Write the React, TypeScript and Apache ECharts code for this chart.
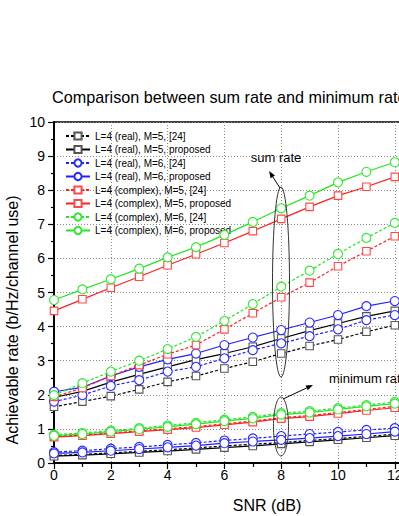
import React, { useEffect, useRef } from "react";
import * as echarts from "echarts";

const snr = [0, 1, 2, 3, 4, 5, 6, 7, 8, 9, 10, 11, 12];

const legendNames = [
  "L=4 (real), M=5, [24]",
  "L=4 (real), M=5, proposed",
  "L=4 (real), M=6, [24]",
  "L=4 (real), M=6, proposed",
  "L=4 (complex), M=5, [24]",
  "L=4 (complex), M=5, proposed",
  "L=4 (complex), M=6, [24]",
  "L=4 (complex), M=6, proposed",
];

// sum rate curves
const sumReal5Ref = [1.65, 1.8, 1.96, 2.16, 2.38, 2.55, 2.77, 2.97, 3.21, 3.43, 3.62, 3.85, 4.04];
const sumReal5Prop = [1.92, 2.1, 2.37, 2.6, 2.82, 3.03, 3.21, 3.41, 3.65, 3.88, 4.09, 4.3, 4.46];
const sumReal6Ref = [1.8, 1.99, 2.26, 2.43, 2.68, 2.82, 3.07, 3.31, 3.51, 3.72, 3.92, 4.19, 4.34];
const sumReal6Prop = [2.09, 2.22, 2.55, 2.82, 3.04, 3.21, 3.46, 3.68, 3.9, 4.12, 4.34, 4.6, 4.75];
const sumCplx5Ref = [1.94, 2.2, 2.55, 2.87, 3.19, 3.46, 3.92, 4.39, 4.86, 5.29, 5.77, 6.21, 6.65];
const sumCplx5Prop = [4.46, 4.8, 5.14, 5.46, 5.8, 6.12, 6.45, 6.8, 7.16, 7.51, 7.84, 8.1, 8.39];
const sumCplx6Ref = [1.99, 2.34, 2.68, 3.0, 3.34, 3.7, 4.17, 4.66, 5.17, 5.64, 6.13, 6.6, 7.04];
const sumCplx6Prop = [4.78, 5.09, 5.39, 5.7, 6.03, 6.33, 6.69, 7.07, 7.47, 7.84, 8.23, 8.54, 8.82];

// minimum rate curves
const minReal5Ref = [0.22, 0.25, 0.3, 0.34, 0.39, 0.44, 0.5, 0.55, 0.6, 0.66, 0.72, 0.78, 0.84];
const minReal5Prop = [0.2, 0.23, 0.27, 0.31, 0.35, 0.4, 0.45, 0.5, 0.56, 0.62, 0.68, 0.74, 0.8];
const minReal6Ref = [0.32, 0.36, 0.42, 0.47, 0.53, 0.59, 0.66, 0.72, 0.79, 0.85, 0.91, 0.97, 1.02];
const minReal6Prop = [0.28, 0.31, 0.36, 0.41, 0.46, 0.51, 0.58, 0.63, 0.68, 0.73, 0.79, 0.85, 0.92];
const minCplx5Ref = [0.78, 0.82, 0.88, 0.94, 1.0, 1.07, 1.15, 1.23, 1.33, 1.39, 1.48, 1.57, 1.66];
const minCplx5Prop = [0.76, 0.8, 0.86, 0.92, 0.98, 1.04, 1.12, 1.2, 1.3, 1.36, 1.45, 1.54, 1.62];
const minCplx6Ref = [0.83, 0.88, 0.95, 1.02, 1.1, 1.18, 1.27, 1.35, 1.46, 1.52, 1.61, 1.7, 1.79];
const minCplx6Prop = [0.8, 0.85, 0.92, 0.99, 1.06, 1.14, 1.23, 1.31, 1.42, 1.48, 1.57, 1.66, 1.74];

const xTickLabels = ["0", "2", "4", "6", "8", "10", "12"];

const sumSets = [sumReal5Ref, sumReal5Prop, sumReal6Ref, sumReal6Prop, sumCplx5Ref, sumCplx5Prop, sumCplx6Ref, sumCplx6Prop];
const minSets = [minReal5Ref, minReal5Prop, minReal6Ref, minReal6Prop, minCplx5Ref, minCplx5Prop, minCplx6Ref, minCplx6Prop];

const lineColors = ["#000000", "#000000", "#1f1fff", "#1f1fff", "#ff2020", "#ff2020", "#22e622", "#22e622"];
const markerColors = ["#555555", "#555555", "#2a2aff", "#2a2aff", "#ff4848", "#ff4848", "#30e830", "#30e830"];
const symbols = ["rect", "rect", "circle", "circle", "rect", "rect", "circle", "circle"];
const dashed = [true, false, true, false, true, false, true, false];

const FONT = "Liberation Sans, Arial, sans-serif";

function arrow(x1: number, y1: number, x2: number, y2: number) {
  const dx = x2 - x1;
  const dy = y2 - y1;
  const len = Math.sqrt(dx * dx + dy * dy);
  const ux = dx / len;
  const uy = dy / len;
  const hl = 7;
  const hw = 2.6;
  const bx = x2 - hl * ux;
  const by = y2 - hl * uy;
  const nx = -uy;
  const ny = ux;
  return [
    {
      type: "line",
      shape: { x1, y1, x2: bx, y2: by },
      style: { stroke: "#000", lineWidth: 1 },
      z: 100,
    },
    {
      type: "polygon",
      shape: {
        points: [
          [x2, y2],
          [bx + hw * nx, by + hw * ny],
          [bx - hw * nx, by - hw * ny],
        ],
      },
      style: { fill: "#000" },
      z: 100,
    },
  ];
}

export default function App() {
  const ref = useRef<HTMLDivElement>(null);
  useEffect(() => {
    if (!ref.current) return;
    const chart = echarts.init(ref.current, undefined, { renderer: "svg" });
    const series: any[] = [];
    const groups = [sumSets, minSets];
    groups.forEach((sets) => {
      sets.forEach((vals, i) => {
        series.push({
          type: "line",
          name: legendNames[i],
          data: snr.map((x, k) => [x, vals[k]]),
          symbol: symbols[i],
          symbolSize: symbols[i] === "circle" ? 9 : 7.5,
          showSymbol: true,
          z: 2 + i,
          lineStyle: {
            color: lineColors[i],
            width: 1.2,
            type: dashed[i] ? [3, 2] : "solid",
          },
          itemStyle: {
            color: "#ffffff",
            borderColor: markerColors[i],
            borderWidth: 1.1,
          },
          emphasis: { disabled: true },
        });
      });
    });

    const graphic: any[] = [
      {
        type: "text",
        x: 12,
        y: 320,
        rotation: Math.PI / 2,
        style: {
          text: "Achievable rate (b/Hz/channel use)",
          font: `16px ${FONT}`,
          fill: "#000",
          align: "center",
          verticalAlign: "middle",
        },
      },
      {
        type: "text",
        x: 267,
        y: 505,
        style: {
          text: "SNR (dB)",
          font: `16px ${FONT}`,
          fill: "#000",
          align: "center",
          verticalAlign: "middle",
        },
      },
      {
        type: "text",
        x: 276,
        y: 157,
        style: {
          text: "sum rate",
          font: `13px ${FONT}`,
          fill: "#000",
          align: "center",
          verticalAlign: "middle",
        },
      },
      {
        type: "text",
        x: 329,
        y: 378,
        style: {
          text: "minimum rate",
          font: `13px ${FONT}`,
          fill: "#000",
          align: "left",
          verticalAlign: "middle",
        },
      },
      {
        type: "ellipse",
        shape: { cx: 281, cy: 282, rx: 8.5, ry: 95 },
        style: { fill: "none", stroke: "#333", lineWidth: 1 },
        z: 100,
      },
      {
        type: "ellipse",
        shape: { cx: 281, cy: 426.5, rx: 7.5, ry: 29.5 },
        style: { fill: "none", stroke: "#333", lineWidth: 1 },
        z: 100,
      },
      ...arrow(280, 188, 269, 171),
      ...arrow(283, 399, 313, 385),
    ];

    chart.setOption({
      animation: false,
      backgroundColor: "#ffffff",
      title: {
        text: "Comparison between sum rate and minimum rate",
        left: 52,
        top: 89,
        padding: 0,
        textStyle: { fontFamily: FONT, fontSize: 16.2, fontWeight: "normal", color: "#000" },
      },
      legend: {
        orient: "vertical",
        left: 65,
        top: 131,
        padding: 0,
        itemWidth: 24,
        itemHeight: 9,
        itemGap: 3.5,
        data: legendNames,
        textStyle: { fontFamily: FONT, fontSize: 10, color: "#000" },
        selectedMode: false,
      },
      grid: {
        left: 54,
        top: 122,
        width: 397.6,
        height: 341,
        outerBoundsMode: "none",
        containLabel: false,
        show: true,
        borderColor: "#000",
        borderWidth: 1.5,
        backgroundColor: "transparent",
      },
      xAxis: {
        type: "value",
        min: 0,
        max: 14,
        interval: 2,
        axisLine: { show: true, onZero: false, lineStyle: { color: "#000", width: 2 } },
        axisTick: { show: true, inside: false, length: 6, lineStyle: { color: "#000", width: 1.2 } },
        minorTick: { show: true, splitNumber: 2, length: 4, lineStyle: { color: "#000", width: 1.2 } },
        splitLine: { show: true, lineStyle: { color: "#8a8a8a", type: [1, 2], width: 1 } },
        axisLabel: {
          fontFamily: FONT,
          fontSize: 14,
          color: "#000",
          margin: 5,
          formatter: (v: number) => (xTickLabels.indexOf(String(v)) >= 0 ? String(v) : ""),
        },
      },
      yAxis: {
        type: "value",
        min: 0,
        max: 10,
        interval: 1,
        axisLine: { show: true, onZero: false, lineStyle: { color: "#000", width: 2 } },
        axisTick: { show: true, inside: false, length: 6, lineStyle: { color: "#000", width: 1.2 } },
        minorTick: { show: true, splitNumber: 2, length: 3, lineStyle: { color: "#000", width: 1.2 } },
        splitLine: { show: true, lineStyle: { color: "#8a8a8a", type: [1, 2], width: 1 } },
        axisLabel: { fontFamily: FONT, fontSize: 14, color: "#000", margin: 9 },
      },
      series,
      graphic,
    });
    return () => chart.dispose();
  }, []);
  return (
    <div
      ref={ref}
      style={{ position: "fixed", left: 0, top: 0, width: 399, height: 516, background: "#fff" }}
    />
  );
}
